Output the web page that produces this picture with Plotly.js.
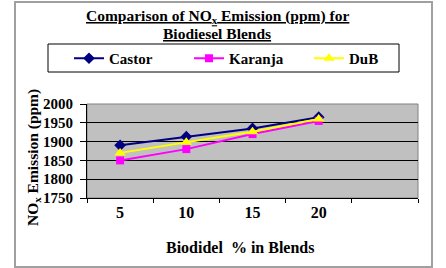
<!DOCTYPE html>
<html><head><meta charset="utf-8">
<script src="https://cdn.plot.ly/plotly-3.0.1.min.js"></script>
<style>html,body{margin:0;padding:0;background:#fff;}#chart{width:446px;height:268px;}</style>
</head><body><div id="chart"></div>
<script>
const categories = ['5','10','15','20',' '];
const castor  = [1890, 1913, 1935, 1965];
const karanja = [1850, 1880, 1920, 1955];
const dub     = [1870, 1898, 1926, 1960];
const seriesNames = ['Castor','Karanja','DuB'];
const yTicks = [1750,1800,1850,1900,1950,2000];
const titleLines = ['Comparison of NO<sub>x</sub> Emission (ppm) for', 'Biodiesel Blends'];
const yTitle = 'NO<sub>x</sub> Emission (ppm)';
const xTitle = 'Biodidel  % in Blends';

const F = 'Liberation Serif';
const xs = categories.slice(0,4);

const traces = [
  {x: xs, y: castor, name: seriesNames[0], type:'scatter', mode:'lines+markers',
   line:{color:'#000080', width:2}, marker:{symbol:'diamond', size:9, color:'#000080'}},
  {x: xs, y: karanja, name: seriesNames[1], type:'scatter', mode:'lines+markers',
   line:{color:'#FF00FF', width:2}, marker:{symbol:'square', size:8, color:'#FF00FF'}},
  {x: xs, y: dub, name: seriesNames[2], type:'scatter', mode:'lines+markers',
   line:{color:'#FFFF00', width:2}, marker:{symbol:'triangle-up', size:10, color:'#FFFF00'}}
];

const L = 87, R = 418, T = 104, B = 198;
const px = v => (v - L) / (R - L);
const py = v => (B - v) / (B - T);

const layout = {
  width: 446, height: 268,
  margin: {l: L, r: 446 - R, t: T, b: 268 - B},
  paper_bgcolor: '#fff', plot_bgcolor: '#C0C0C0',
  font: {family: F, size: 13, color: '#000'},
  showlegend: true,
  legend: {orientation: 'h', x: px(69), xanchor: 'left', y: py(42), yanchor: 'top',
    bgcolor: 'rgba(0,0,0,0)', borderwidth: 0, entrywidth: 75, entrywidthmode: 'pixels',
    font: {family: F, size: 15, color: '#000', weight: 'bold'}},
  xaxis: {type: 'category', categoryorder: 'array', categoryarray: categories,
    range: [-0.5, 4.5], tickson: 'boundaries', ticks: 'outside', ticklen: 4, tickcolor: '#000',
    showline: true, linecolor: '#000', linewidth: 1, showgrid: false, zeroline: false,
    tickfont: {family: F, size: 16, weight: 'bold'}, fixedrange: true},
  yaxis: {range: [1750, 2000], tickvals: yTicks, ticktext: yTicks.map(String),
    ticks: 'outside', ticklen: 6, tickcolor: '#000', ticklabelstandoff: 4,
    showline: true, linecolor: '#000', linewidth: 1, showgrid: true, gridcolor: '#000', gridwidth: 1,
    zeroline: false, tickfont: {family: F, size: 15, weight: 'bold'}, fixedrange: true},
  annotations: [
    {text: '<b><u>' + titleLines[0] + '</u></b>', xref: 'paper', yref: 'paper', x: px(217), y: py(16),
     xanchor: 'center', yanchor: 'middle', showarrow: false, font: {family: F, size: 15.5, color: '#000'}},
    {text: '<b><u>' + titleLines[1] + '</u></b>', xref: 'paper', yref: 'paper', x: px(217), y: py(33),
     xanchor: 'center', yanchor: 'middle', showarrow: false, font: {family: F, size: 15.5, color: '#000'}},
    {text: '<b>' + yTitle + '</b>', xref: 'paper', yref: 'paper', x: px(33), y: py(158), textangle: -90,
     xanchor: 'center', yanchor: 'middle', showarrow: false, font: {family: F, size: 15.5, color: '#000'}},
    {text: '<b>' + xTitle + '</b>', xref: 'paper', yref: 'paper', x: px(240), y: py(247),
     xanchor: 'center', yanchor: 'middle', showarrow: false, font: {family: F, size: 16, color: '#000'}}
  ],
  shapes: [
    {type: 'rect', xref: 'paper', yref: 'paper', x0: 0, x1: 1, y0: 0, y1: 1,
     line: {color: '#808080', width: 1}, layer: 'below'},
    {type: 'rect', xref: 'paper', yref: 'paper', x0: px(48), x1: px(399), y0: py(72), y1: py(44),
     line: {color: '#000', width: 1}},
    {type: 'rect', xref: 'paper', yref: 'paper', x0: px(15), x1: px(432), y0: py(267), y1: py(2),
     line: {color: '#A0A0A0', width: 2}}
  ]
};

Plotly.newPlot('chart', traces, layout, {displayModeBar: false, staticPlot: true});
</script></body></html>
